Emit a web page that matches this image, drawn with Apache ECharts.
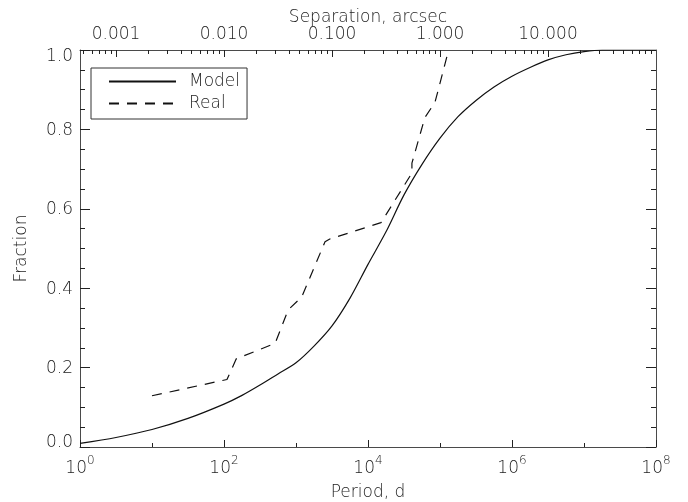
<!DOCTYPE html>
<html>
<head>
<meta charset="utf-8">
<script src="https://cdn.jsdelivr.net/npm/echarts@6/dist/echarts.min.js"></script>
<style>
  html, body { margin: 0; padding: 0; background: #fff; }
  #chart { width: 688px; height: 502px; }
</style>
</head>
<body>
<div id="chart"></div>
<script>
// Cumulative fraction of binaries versus orbital period (days).
const modelPeriod = [1, 3.16, 10, 31.6, 100, 178, 316, 562, 1000, 1778, 3162, 5623, 10000, 17783, 31623, 56234,
  100000, 177828, 316228, 562341, 1000000, 1778279, 3162278, 5623413, 10000000, 17782794, 100000000];
const modelFraction = [0.009, 0.024, 0.044, 0.072, 0.108, 0.130, 0.156, 0.184, 0.212, 0.254, 0.305, 0.375, 0.460, 0.542, 0.635, 0.712,
  0.778, 0.832, 0.873, 0.907, 0.934, 0.956, 0.975, 0.988, 0.996, 1.000, 1.000];

const realPeriod = [10, 110, 148, 513, 776, 1202, 2530, 2950, 15136, 40738, 40738, 61660, 85114, 131826];
const realFraction = [0.129, 0.170, 0.222, 0.261, 0.345, 0.378, 0.517, 0.524, 0.565, 0.690, 0.715, 0.830, 0.868, 1.000];

// Bottom axis: labelled decades of period (exponents of ten)
const periodRange = [1, 1e8];
const periodExponents = [0, 2, 4, 6, 8];

// Top axis: angular separation that corresponds to the period range
const separationRange = [0.000464, 100];
const separationTicks = [0.001, 0.01, 0.1, 1, 10];
const separationLabels = ['0.001', '0.010', '0.100', '1.000', '10.000'];

const fractionRange = [0, 1];

const LINE = '#111';
const AXIS = '#4a4a4a';
const TICK = '#222';
const TEXT = '#222';
const FONT = "'DejaVu Sans', sans-serif";
const textBase = { color: TEXT, fontFamily: FONT, fontSize: 17, fontWeight: 200 };

const sepLo = Math.log10(separationRange[0]);
const sepHi = Math.log10(separationRange[1]);
const sepMajor = separationTicks.map(s => Math.log10(s));
const sepMinor = [];
for (let k = -4; k <= 1; k++) {
  for (let n = 2; n <= 9; n++) {
    const v = Math.log10(n) + k;
    if (v > sepLo && v < sepHi) sepMinor.push(v);
  }
}
function sepLabel(v) {
  const i = sepMajor.findIndex(m => Math.abs(m - v) < 1e-6);
  return i >= 0 ? separationLabels[i] : '';
}
// fraction labels: the end labels sit slightly inside the frame
function fractionLabel(v) {
  const t = v.toFixed(1);
  if (v >= fractionRange[1] - 1e-9) return '{hi|' + t + '}';
  if (v <= fractionRange[0] + 1e-9) return '{lo|' + t + '}';
  return '{mid|' + t + '}';
}

const axisLine = { show: true, onZero: false, lineStyle: { color: AXIS, width: 1 } };

const chart = echarts.init(document.getElementById('chart'), null, { renderer: 'canvas' });
chart.setOption({
  animation: false,
  backgroundColor: '#fff',
  grid: { left: 80, right: 32, top: 50, bottom: 55, containLabel: false, outerBoundsMode: 'none' },
  legend: {
    left: 91, top: 68, orient: 'vertical',
    itemWidth: 67, itemHeight: 14, itemGap: 5,
    padding: [5, 7, 7, 17],
    borderColor: '#333', borderWidth: 1,
    selectedMode: false,
    itemStyle: { opacity: 0 },
    textStyle: Object.assign({}, textBase, { padding: [0, 0, 0, 8] }),
    data: ['Model', 'Real']
  },
  xAxis: [
    // data axis (logarithmic period)
    { type: 'log', logBase: 10, min: periodRange[0], max: periodRange[1], show: false },
    // drawn bottom axis, in decades
    {
      type: 'value', position: 'bottom',
      min: periodExponents[0], max: periodExponents[periodExponents.length - 1], interval: 2,
      axisLine: axisLine,
      axisTick: { show: true, inside: true, length: 7, lineStyle: { color: TICK } },
      minorTick: { show: true, splitNumber: 2, length: 4, lineStyle: { color: TICK } },
      splitLine: { show: false }, minorSplitLine: { show: false },
      axisLabel: {
        margin: 8,
        formatter: v => '{b|10}{s|' + v + '}',
        rich: {
          b: Object.assign({}, textBase, { lineHeight: 22, verticalAlign: 'bottom' }),
          s: Object.assign({}, textBase, { fontSize: 12, lineHeight: 12, verticalAlign: 'top' })
        }
      },
      name: 'Period, d', nameLocation: 'middle', nameGap: 37, nameMoveOverlap: false,
      nameTextStyle: textBase
    },
    // top axis: separation, major ticks and labels
    {
      type: 'value', position: 'top', min: sepLo, max: sepHi,
      axisLine: axisLine,
      axisTick: { show: true, inside: true, length: 7, customValues: sepMajor, lineStyle: { color: TICK } },
      axisLabel: Object.assign({}, textBase, { margin: 7, customValues: sepMajor, formatter: sepLabel }),
      splitLine: { show: false },
      name: 'Separation, arcsec', nameLocation: 'middle', nameGap: 24, nameMoveOverlap: false,
      nameTextStyle: textBase
    },
    // top axis: separation, minor ticks
    {
      type: 'value', position: 'top', min: sepLo, max: sepHi,
      axisLine: { show: false, onZero: false },
      axisTick: { show: true, inside: true, length: 4, customValues: sepMinor, lineStyle: { color: TICK } },
      axisLabel: { show: false },
      splitLine: { show: false }
    }
  ],
  yAxis: [
    {
      type: 'value', position: 'left', min: fractionRange[0], max: fractionRange[1], interval: 0.2,
      axisLine: axisLine,
      axisTick: { show: true, inside: true, length: 10, lineStyle: { color: TICK } },
      minorTick: { show: true, splitNumber: 4, length: 5, lineStyle: { color: TICK } },
      splitLine: { show: false }, minorSplitLine: { show: false },
      axisLabel: {
        margin: 7, formatter: fractionLabel,
        rich: {
          mid: Object.assign({}, textBase, { padding: [2, 0, 0, 0] }),
          hi: Object.assign({}, textBase, { padding: [14, 0, 0, 0] }),
          lo: Object.assign({}, textBase, { padding: [0, 0, 8, 0] })
        }
      },
      name: 'Fraction', nameLocation: 'middle', nameGap: 50, nameRotate: 90, nameMoveOverlap: false,
      nameTextStyle: textBase
    },
    {
      type: 'value', position: 'right', min: fractionRange[0], max: fractionRange[1], interval: 0.2,
      axisLine: axisLine,
      axisTick: { show: true, inside: true, length: 10, lineStyle: { color: TICK } },
      minorTick: { show: true, splitNumber: 4, length: 5, lineStyle: { color: TICK } },
      splitLine: { show: false }, minorSplitLine: { show: false },
      axisLabel: { show: false }
    }
  ],
  series: [
    {
      name: 'Model', type: 'line', xAxisIndex: 0, yAxisIndex: 0,
      data: modelPeriod.map((p, i) => [p, modelFraction[i]]),
      symbol: 'none', showSymbol: false, smooth: 0.3,
      lineStyle: { color: LINE, width: 1.2 }, itemStyle: { color: LINE },
      silent: true
    },
    {
      name: 'Real', type: 'line', xAxisIndex: 0, yAxisIndex: 0,
      data: realPeriod.map((p, i) => [p, realFraction[i]]),
      symbol: 'none', showSymbol: false,
      lineStyle: { color: LINE, width: 1.2, type: [10, 8] }, itemStyle: { color: LINE },
      silent: true
    }
  ]
});
</script>
</body>
</html>
